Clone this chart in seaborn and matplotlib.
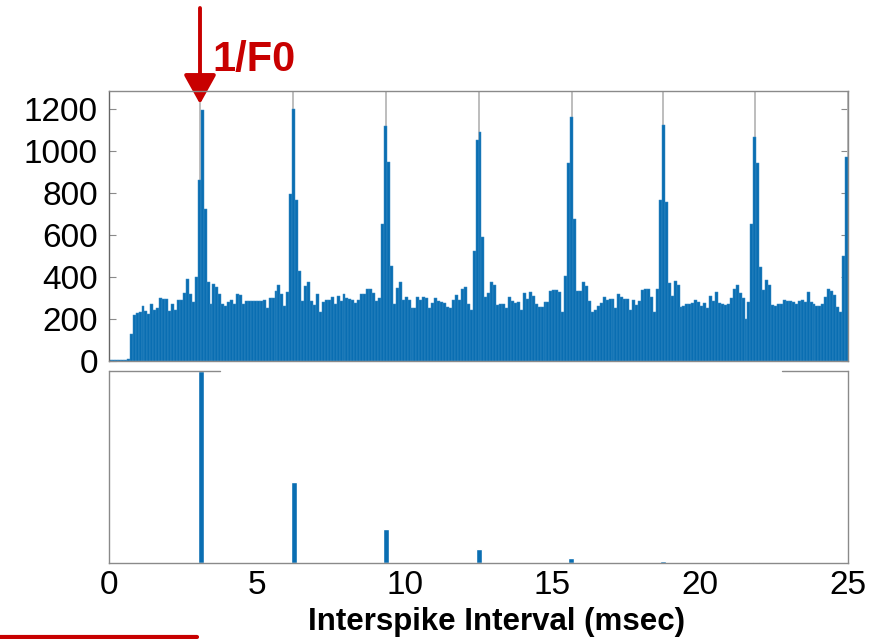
import numpy as np
import pandas as pd
import matplotlib
matplotlib.use("Agg")
import matplotlib.pyplot as plt
import seaborn as sns
from matplotlib.lines import Line2D

# ---------------- data ----------------
bin_width = 0.1  # ms
counts_0_5 = [3, 3, 3, 3, 5, 5, 8, 130, 220, 229, 233, 264, 237, 224, 269, 245, 253, 301, 296, 296,
              237, 269, 245, 290, 288, 322, 389, 320, 282, 400, 861, 1194, 722, 376, 269, 368, 352, 320, 269, 264,
              282, 288, 269, 317, 312, 270, 285, 285, 285, 285]
counts_5_10 = [285, 285, 288, 253, 298, 298, 333, 362, 317, 261, 330, 797, 1197, 765, 429, 285, 357, 376, 285, 266,
               317, 232, 282, 288, 290, 306, 269, 309, 285, 317, 301, 296, 290, 277, 288, 317, 317, 344, 344, 322,
               285, 298, 650, 1117, 949, 450, 272, 349, 376, 290]
counts_10_15 = [306, 290, 253, 253, 306, 288, 306, 298, 253, 277, 298, 285, 282, 274, 258, 250, 290, 312, 290, 344,
                352, 269, 245, 525, 1053, 1090, 589, 306, 322, 376, 362, 266, 272, 269, 253, 306, 285, 277, 282, 245,
                322, 296, 330, 309, 272, 258, 258, 282, 282, 333]
counts_15_20 = [336, 336, 330, 232, 405, 944, 1160, 677, 333, 333, 376, 357, 285, 232, 245, 264, 277, 306, 288, 296,
                296, 253, 317, 304, 296, 296, 245, 290, 266, 285, 336, 344, 344, 304, 232, 344, 768, 1125, 757, 373,
                309, 381, 360, 258, 264, 269, 272, 277, 290, 282]
counts_20_25 = [264, 277, 253, 309, 285, 328, 277, 272, 266, 272, 301, 344, 362, 322, 301, 202, 282, 650, 1064, 944,
                445, 338, 384, 362, 266, 261, 272, 272, 288, 285, 285, 282, 272, 285, 290, 282, 330, 282, 269, 264,
                261, 272, 304, 344, 333, 312, 258, 232, 501, 973]
counts = counts_0_5 + counts_5_10 + counts_10_15 + counts_15_20 + counts_20_25

f0_multiples = [3.08, 6.24, 9.37, 12.52, 15.65, 18.73, 21.87, 25.0]   # ms, grey guide lines

peak_positions = [3.11, 6.26, 9.36, 12.52, 15.62, 18.74, 21.89, 24.98]  # ms
peak_heights = [1.0, 0.42, 0.177, 0.073, 0.028, 0.011, 0.005, 0.003]

y_ticks = [0, 200, 400, 600, 800, 1000, 1200]
x_ticks = [0, 5, 10, 15, 20, 25]
x_label = "Interspike Interval (msec)"
annotation = "1/F0"

# ---------------- style ----------------
BLUE = "#0a6eb2"
RED = "#c80000"
SPINE = "#8a8a8a"
W, H = 884, 639

sns.set_style("white")
plt.rcParams["font.family"] = ["Liberation Sans", "DejaVu Sans"]
plt.rcParams["text.color"] = "black"
plt.rcParams["axes.labelcolor"] = "black"
plt.rcParams["xtick.labelcolor"] = "black"
plt.rcParams["ytick.labelcolor"] = "black"

fig = plt.figure(figsize=(W / 100, H / 100), dpi=100)
ax1 = fig.add_axes([109 / W, 1 - 361 / H, 739 / W, 270 / H])
ax2 = fig.add_axes([109 / W, 1 - 563 / H, 739 / W, 192 / H])

# ---------------- top panel ----------------
n_bins = len(counts)
centers = (np.arange(n_bins) + 0.5) * bin_width
df = pd.DataFrame({"isi": centers, "count": counts})
sns.histplot(data=df, x="isi", weights="count", binwidth=bin_width,
             binrange=(0, n_bins * bin_width), ax=ax1,
             color=BLUE, alpha=1, edgecolor="#3a8cc6", linewidth=0.35, zorder=2)
for xm in f0_multiples:
    ax1.axvline(xm, color="#b8b8b8", lw=1.3, zorder=1)

ax1.set_xlim(0, 25)
ax1.set_ylim(0, 1285)
ax1.set_yticks(y_ticks)
ax1.set_yticklabels([str(v) for v in y_ticks], fontsize=24, color="black")
ax1.tick_params(axis="y", direction="in", length=5, left=True, right=True,
                pad=8, color=SPINE, width=0.8, labelcolor="black")
ax1.tick_params(axis="x", bottom=False, labelbottom=False)
ax1.set_xlabel("")
ax1.set_ylabel("")
for s in ax1.spines.values():
    s.set_color(SPINE)
    s.set_linewidth(1.0)
    s.set_zorder(3)
ax1.spines["left"].set_color("#666666")

# ---------------- bottom panel ----------------
ax2.bar(peak_positions, peak_heights, width=0.2, color=BLUE, zorder=2)
ax2.set_xlim(0, 25)
ax2.set_ylim(0, 1.0)
ax2.set_yticks([])
ax2.set_xticks(x_ticks)
ax2.set_xticklabels([str(v) for v in x_ticks], fontsize=24, color="black")
ax2.tick_params(axis="x", direction="in", length=5, pad=5, color=SPINE, width=0.8,
                labelcolor="black")
for name, s in ax2.spines.items():
    s.set_color(SPINE)
    s.set_linewidth(1.0)
ax2.spines["top"].set_visible(False)
ax2.axhline(1.0, xmin=0, xmax=0.15, color=SPINE, lw=1.0, clip_on=False, zorder=3)
ax2.axhline(1.0, xmin=0.911, xmax=1.0, color=SPINE, lw=1.0, clip_on=False, zorder=3)
ax2.set_xlabel(x_label, fontsize=22.5, fontweight="bold", color="black")
ax2.xaxis.set_label_coords((496 - 109) / 739, -0.23)

# ---------------- annotations ----------------
ax1.annotate("", xy=(200 / W, 1 - 104 / H), xytext=(200 / W, 1 - 8 / H),
             xycoords="figure fraction", textcoords="figure fraction",
             annotation_clip=False,
             arrowprops=dict(arrowstyle="-|>,head_width=0.5,head_length=0.9",
                             mutation_scale=20, color=RED, lw=2.8,
                             shrinkA=0, shrinkB=0))
fig.text(212 / W, 1 - 70.5 / H, annotation, fontsize=30, fontweight="bold",
         color=RED, ha="left", va="baseline")
fig.add_artist(Line2D([0, 197 / W], [1 - 637 / H, 1 - 637 / H], color=RED, lw=3))

fig.savefig("out.png", dpi=100)
